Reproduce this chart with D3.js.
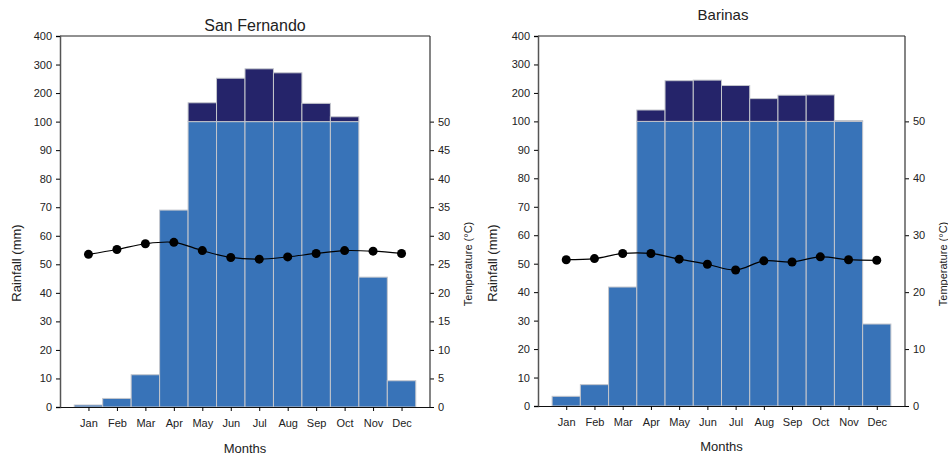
<!DOCTYPE html>
<html><head><meta charset="utf-8">
<script src="https://cdn.jsdelivr.net/npm/d3@7"></script>
<style>body{margin:0;background:#fff;font-family:"Liberation Sans",Arial,sans-serif;} text{fill:#222;}</style>
</head><body><svg id="c" width="948" height="457"></svg>
<script>
const months = ["Jan","Feb","Mar","Apr","May","Jun","Jul","Aug","Sep","Oct","Nov","Dec"];
const rainTicks = [0,10,20,30,40,50,60,70,80,90,100,200,300,400];
const sfRain = [0.7, 3, 11.3, 69, 166, 252, 285, 271, 164, 117, 45.5, 9.2];
const sfTemp = [26.75, 27.6, 28.6, 28.85, 27.4, 26.2, 25.9, 26.3, 26.9, 27.4, 27.3, 26.9];
const sfTempTicks = [0,5,10,15,20,25,30,35,40,45,50];
const baRain = [3.4, 7.5, 41.8, 140, 243, 245, 226, 180, 192, 193, 103, 28.8];
const baTemp = [25.7, 25.9, 26.8, 26.8, 25.8, 24.9, 23.9, 25.5, 25.3, 26.2, 25.7, 25.6];
const baTempTicks = [0,10,20,30,40,50];

const svg = d3.select("#c");

function panel(cfg){
  const {x0,x1,y0,y1,rain,temp,tempTicks,title,titleX,titleY,titleSize,rainLabelX,tempLabelX,monthsY} = cfg;
  const g = svg.append("g");
  const x = d3.scaleLinear().domain([0,13]).range([x0,x1]);
  const y100 = y1 - (y1-y0)*10/13;
  const y = d3.scaleLinear().domain([0,100,400]).range([y1,y100,y0]);
  const t = d3.scaleLinear().domain([0,50]).range([y1,y100]);
  const bw = x(1)-x(0);
  // bars lower
  g.selectAll("rect.lo").data(rain).join("rect")
    .attr("x",(d,i)=>x(i+0.5)).attr("width",bw)
    .attr("y",d=>y(Math.min(d,100))).attr("height",d=>y1-y(Math.min(d,100)))
    .attr("fill","#3873b8").attr("stroke","#c4c6cc").attr("stroke-width",1);
  g.selectAll("rect.hi").data(rain.map((d,i)=>[d,i]).filter(d=>d[0]>100)).join("rect")
    .attr("x",d=>x(d[1]+0.5)).attr("width",bw)
    .attr("y",d=>y(d[0])).attr("height",d=>y(100)-y(d[0]))
    .attr("fill","#25246a").attr("stroke","#c4c6cc").attr("stroke-width",1);
  // frame top
  g.append("line").attr("x1",x0).attr("x2",x1).attr("y1",y0).attr("y2",y0).attr("stroke","#222");
  // left axis
  const la = g.append("g").attr("transform",`translate(${x0},0)`)
    .call(d3.axisLeft(y).tickValues(rainTicks).tickSize(4).tickPadding(4));
  la.select(".domain").attr("stroke","#555").attr("stroke-width",1.5);
  la.selectAll("text").attr("font-size",11).attr("font-family","Liberation Sans, Arial, sans-serif").style("fill","#222");
  // right axis
  const ra = g.append("g").attr("transform",`translate(${x1},0)`)
    .call(d3.axisRight(t).tickValues(tempTicks).tickSize(4).tickPadding(4));
  ra.select(".domain").remove();
  g.append("line").attr("x1",x1).attr("x2",x1).attr("y1",y0).attr("y2",y1).attr("stroke","#333").attr("stroke-width",1.2);
  ra.selectAll("text").attr("font-size",11).attr("font-family","Liberation Sans, Arial, sans-serif").style("fill","#222");
  // bottom axis
  const ba = g.append("g").attr("transform",`translate(0,${y1})`)
    .call(d3.axisBottom(d3.scaleLinear().domain([0,13]).range([x0,x1])).tickValues(d3.range(1,13)).tickFormat(i=>months[i-1]).tickSize(4).tickPadding(8).tickSizeOuter(0));
  ba.select(".domain").attr("stroke","#111");
  ba.selectAll("text").attr("font-size",11).attr("font-family","Liberation Sans, Arial, sans-serif").style("fill","#222");
  // temperature line
  const line = d3.line().x((d,i)=>x(i+1)).y(d=>t(d)).curve(d3.curveCatmullRom);
  g.append("path").datum(temp).attr("d",line).attr("fill","none").attr("stroke","#000").attr("stroke-width",1.2);
  g.selectAll("circle").data(temp).join("circle").attr("cx",(d,i)=>x(i+1)).attr("cy",d=>t(d)).attr("r",4.5).attr("fill","#000");
  // labels
  g.append("text").attr("x",titleX).attr("y",titleY).attr("text-anchor","middle").attr("font-size",titleSize).text(title);
  g.append("text").attr("transform",`translate(${rainLabelX},263) rotate(-90)`).attr("text-anchor","middle").attr("font-size",13).text("Rainfall (mm)");
  g.append("text").attr("transform",`translate(${tempLabelX},264) rotate(-90)`).attr("text-anchor","middle").attr("font-size",11).text("Temperature (°C)");
  g.append("text").attr("x",(x0+x1)/2).attr("y",monthsY).attr("text-anchor","middle").attr("font-size",13).text("Months");
}

panel({x0:60,x1:430,y0:36,y1:407,rain:sfRain,temp:sfTemp,tempTicks:sfTempTicks,title:"San Fernando",titleX:255,titleY:31,titleSize:16,rainLabelX:21,tempLabelX:472,monthsY:453});
panel({x0:538,x1:905,y0:36,y1:406,rain:baRain,temp:baTemp,tempTicks:baTempTicks,title:"Barinas",titleX:723,titleY:20,titleSize:15,rainLabelX:497,tempLabelX:947,monthsY:451});
</script></body></html>
